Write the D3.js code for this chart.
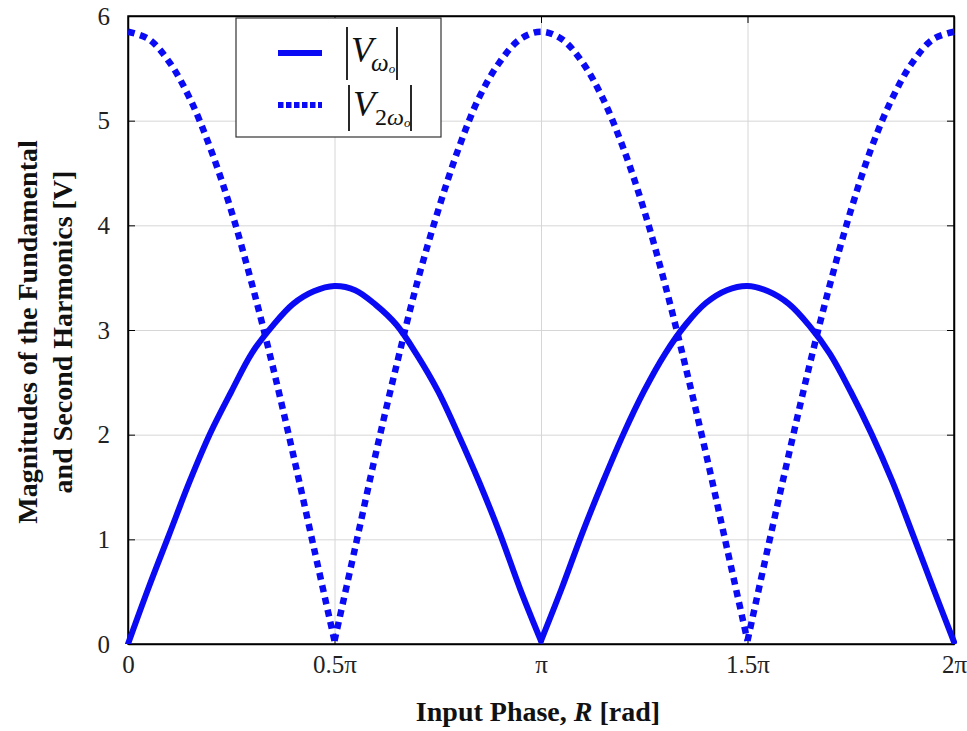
<!DOCTYPE html>
<html>
<head>
<meta charset="utf-8">
<script src="https://cdn.jsdelivr.net/npm/d3@7"></script>
<style>
  body { margin: 0; background: #fff; }
  svg { font-family: "Liberation Serif", "DejaVu Serif", serif; }
</style>
</head>
<body>
<svg id="chart"></svg>
<script>
// phase in units of pi
const phase = [0, 0.05, 0.1, 0.15, 0.2, 0.25, 0.3, 0.35, 0.4, 0.45, 0.5, 0.55, 0.6, 0.65, 0.7, 0.75, 0.8, 0.85, 0.9, 0.95, 1,
  1.05, 1.1, 1.15, 1.2, 1.25, 1.3, 1.35, 1.4, 1.45, 1.5, 1.55, 1.6, 1.65, 1.7, 1.75, 1.8, 1.85, 1.9, 1.95, 2];

// |V_wo| fundamental
const fundamental = [0, 0.54, 1.05, 1.56, 2.02, 2.41, 2.78, 3.04, 3.25, 3.37, 3.42, 3.38, 3.24, 3.05, 2.76, 2.42, 2.00, 1.55, 1.06, 0.52, 0.03,
  0.53, 1.06, 1.55, 2.01, 2.42, 2.77, 3.05, 3.26, 3.38, 3.42, 3.37, 3.25, 3.04, 2.77, 2.41, 2.01, 1.56, 1.05, 0.53, 0.02];

// |V_2wo| second harmonic
const second = [5.85, 5.78, 5.56, 5.21, 4.73, 4.14, 3.44, 2.66, 1.81, 0.92, 0.03, 0.92, 1.82, 2.66, 3.45, 4.13, 4.73, 5.22, 5.56, 5.78, 5.85,
  5.78, 5.56, 5.21, 4.73, 4.14, 3.44, 2.65, 1.81, 0.92, 0.03, 0.93, 1.81, 2.66, 3.44, 4.14, 4.74, 5.21, 5.56, 5.78, 5.85];

const xTicks = [0, 0.5, 1, 1.5, 2];
const xTickLabels = ["0", "0.5\u03c0", "\u03c0", "1.5\u03c0", "2\u03c0"];
const yTicks = [0, 1, 2, 3, 4, 5, 6];

const width = 967, height = 731;
const margin = { left: 128, right: 13, top: 16, bottom: 87 };
const w = width - margin.left - margin.right;
const h = height - margin.top - margin.bottom;
const blue = "#0a0af5";

const svg = d3.select("#chart").attr("width", width).attr("height", height);
const g = svg.append("g").attr("transform", `translate(${margin.left},${margin.top})`);

const x = d3.scaleLinear().domain([0, 2]).range([0, w]);
const y = d3.scaleLinear().domain([0, 6]).range([h, 0]);

// grid
g.append("g")
  .attr("transform", `translate(0,${h})`)
  .call(d3.axisBottom(x).tickValues(xTicks.slice(1, -1)).tickSize(-h).tickFormat(""))
  .call(s => s.select(".domain").remove())
  .selectAll("line").attr("stroke", "#d6d6d6");
g.append("g")
  .call(d3.axisLeft(y).tickValues(yTicks.slice(1, -1)).tickSize(-w).tickFormat(""))
  .call(s => s.select(".domain").remove())
  .selectAll("line").attr("stroke", "#d6d6d6");

// inward ticks on all sides
const tk = 7;
const axB = g.append("g").attr("transform", `translate(0,${h})`)
  .call(d3.axisBottom(x).tickValues(xTicks).tickSizeInner(-tk).tickSizeOuter(0)
    .tickFormat((d, i) => xTickLabels[i]).tickPadding(tk + 14));
const axL = g.append("g")
  .call(d3.axisLeft(y).tickValues(yTicks).tickSizeInner(-tk).tickSizeOuter(0)
    .tickFormat(d3.format("d")).tickPadding(tk + 11));
g.append("g").call(d3.axisTop(x).tickValues(xTicks).tickSizeInner(-tk).tickSizeOuter(0).tickFormat(""));
g.append("g").attr("transform", `translate(${w},0)`)
  .call(d3.axisRight(y).tickValues(yTicks).tickSizeInner(-tk).tickSizeOuter(0).tickFormat(""));
g.selectAll(".domain").attr("stroke", "#000").attr("stroke-width", 1.5);
[axB, axL].forEach(a => a.selectAll("text")
  .attr("font-family", "Liberation Serif, serif").attr("font-size", 25).attr("fill", "#222"));
axB.selectAll("text").attr("dy", "0.3em");

// frame
g.append("rect").attr("width", w).attr("height", h)
  .attr("fill", "none").attr("stroke", "#000").attr("stroke-width", 1.5);

// curves: split each series into humps at its zeros so the cusps stay sharp
const rows = phase.map((p, i) => ({ p, f: fundamental[i], s: second[i] }));
function humps(key) {
  const segs = [];
  let cur = [rows[0]];
  for (let i = 1; i < rows.length; i++) {
    cur.push(rows[i]);
    const isMin = i < rows.length - 1 && rows[i][key] < rows[i - 1][key] && rows[i][key] < rows[i + 1][key];
    if (isMin) { segs.push(cur); cur = [rows[i]]; }
  }
  segs.push(cur);
  return segs;
}
const pathFor = key => {
  const line = d3.line().curve(d3.curveCatmullRom).x(d => x(d.p)).y(d => y(d[key]));
  return humps(key).map(s => line(s)).join("");
};

g.append("clipPath").attr("id", "clip").append("rect")
  .attr("x", -4).attr("y", -4).attr("width", w + 8).attr("height", h + 4);
const plot = g.append("g").attr("clip-path", "url(#clip)");

plot.append("path")
  .attr("fill", "none").attr("stroke", blue).attr("stroke-width", 6.5)
  .attr("stroke-dasharray", "7,5.5")
  .attr("d", pathFor("s"));
plot.append("path")
  .attr("fill", "none").attr("stroke", blue).attr("stroke-width", 6)
  .attr("stroke-linejoin", "round").attr("stroke-linecap", "round")
  .attr("d", pathFor("f"));

// legend
const lg = svg.append("g").attr("transform", "translate(236,18)");
lg.append("rect").attr("width", 205).attr("height", 119)
  .attr("fill", "#fff").attr("stroke", "#333").attr("stroke-width", 1.2);
lg.append("line").attr("x1", 42).attr("x2", 86).attr("y1", 35).attr("y2", 35)
  .attr("stroke", blue).attr("stroke-width", 6);
lg.append("line").attr("x1", 42).attr("x2", 86).attr("y1", 87).attr("y2", 87)
  .attr("stroke", blue).attr("stroke-width", 6).attr("stroke-dasharray", "5.5,2.5");

function absLabel(yBase, barL, barR, top, bottom, parts) {
  lg.append("line").attr("x1", barL).attr("x2", barL).attr("y1", top).attr("y2", bottom)
    .attr("stroke", "#111").attr("stroke-width", 1.8);
  lg.append("line").attr("x1", barR).attr("x2", barR).attr("y1", top).attr("y2", bottom)
    .attr("stroke", "#111").attr("stroke-width", 1.8);
  const t = lg.append("text").attr("x", barL + 4).attr("y", yBase).attr("fill", "#111");
  parts.forEach(pt => t.append("tspan").text(pt.t).attr("font-size", pt.fs)
    .attr("font-style", pt.it ? "italic" : "normal").attr("dy", pt.dy).attr("dx", pt.dx || 0));
}
absLabel(44, 111, 161, 9, 62, [
  { t: "V", fs: 36, it: true, dy: 0 },
  { t: "\u03c9", fs: 25, it: true, dy: 9, dx: -2 },
  { t: "o", fs: 13, it: true, dy: 2 }
]);
absLabel(98, 113, 175, 67, 113, [
  { t: "V", fs: 36, it: true, dy: 0 },
  { t: "2", fs: 24, it: false, dy: 9 },
  { t: "\u03c9", fs: 24, it: true, dy: 0 },
  { t: "o", fs: 13, it: true, dy: 2 }
]);

// axis titles
const xt = svg.append("text").attr("x", 538).attr("y", 721).attr("text-anchor", "middle")
  .attr("font-size", 28).attr("font-weight", "bold").attr("fill", "#111");
xt.append("tspan").text("Input Phase, ");
xt.append("tspan").text("R").attr("font-style", "italic");
xt.append("tspan").text(" [rad]");

const yt = svg.append("g").attr("transform", "translate(0,332) rotate(-90)");
yt.append("text").attr("x", 0).attr("y", 37).attr("text-anchor", "middle")
  .attr("font-size", 28).attr("font-weight", "bold").attr("fill", "#111")
  .text("Magnitudes of the Fundamental");
yt.append("text").attr("x", 0).attr("y", 72).attr("text-anchor", "middle")
  .attr("font-size", 28).attr("font-weight", "bold").attr("fill", "#111")
  .text("and Second Harmonics [V]");
</script>
</body>
</html>
